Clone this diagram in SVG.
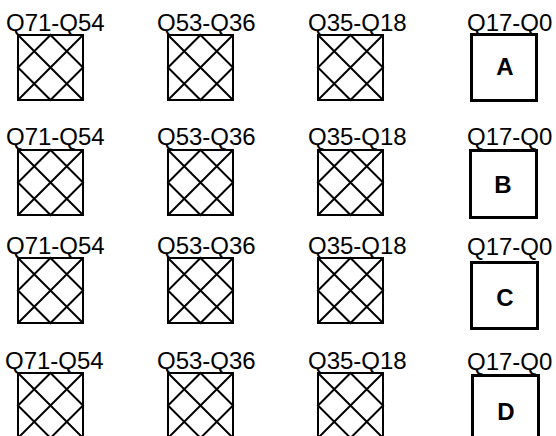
<svg xmlns="http://www.w3.org/2000/svg" xmlns:xlink="http://www.w3.org/1999/xlink" width="556" height="436" viewBox="0 0 556 436">
<style>
.lbl{font-family:"Liberation Sans",Arial,Helvetica,sans-serif;font-size:24px;fill:#000}
.let{font-family:"Liberation Sans",Arial,Helvetica,sans-serif;font-size:24px;font-weight:bold;fill:#000;text-anchor:middle}
.hatch{fill:none;stroke:#000;stroke-width:2}
.box{fill:#fff;stroke:#000;stroke-width:3}
</style>
<defs>
<g id="xsq"><rect x="0" y="0" width="65" height="65" fill="#fff"/><path class="hatch" d="M0,0H65V65H0Z M0,0L65,65 M65,0L0,65 M32.5,0L65,32.5L32.5,65L0,32.5Z"/></g>
</defs>
<rect width="556" height="436" fill="#fff"/>
<g id="connectors"/>
<g id="row1">
<g id="r1c1"><text class="lbl" x="6" y="31">Q71-Q54</text><use xlink:href="#xsq" x="18" y="35"/></g>
<g id="r1c2"><text class="lbl" x="157" y="31">Q53-Q36</text><use xlink:href="#xsq" x="168" y="35"/></g>
<g id="r1c3"><text class="lbl" x="308" y="31">Q35-Q18</text><use xlink:href="#xsq" x="318" y="35"/></g>
<g id="r1c4"><text class="lbl" x="467" y="31">Q17-Q0</text><rect class="box" x="471.5" y="34.5" width="65" height="66"/><text class="let" x="505" y="75">A</text></g>
</g>
<g id="row2">
<g id="r2c1"><text class="lbl" x="6" y="145">Q71-Q54</text><use xlink:href="#xsq" x="18" y="150"/></g>
<g id="r2c2"><text class="lbl" x="157" y="145">Q53-Q36</text><use xlink:href="#xsq" x="168" y="150"/></g>
<g id="r2c3"><text class="lbl" x="308" y="145">Q35-Q18</text><use xlink:href="#xsq" x="318" y="150"/></g>
<g id="r2c4"><text class="lbl" x="467" y="145">Q17-Q0</text><rect class="box" x="470.5" y="150.5" width="66" height="67"/><text class="let" x="503" y="193">B</text></g>
</g>
<g id="row3">
<g id="r3c1"><text class="lbl" x="6" y="254">Q71-Q54</text><use xlink:href="#xsq" x="18" y="258"/></g>
<g id="r3c2"><text class="lbl" x="157" y="254">Q53-Q36</text><use xlink:href="#xsq" x="168" y="258"/></g>
<g id="r3c3"><text class="lbl" x="308" y="254">Q35-Q18</text><use xlink:href="#xsq" x="318" y="258"/></g>
<g id="r3c4"><text class="lbl" x="467" y="255">Q17-Q0</text><rect class="box" x="471.5" y="262.5" width="66" height="66"/><text class="let" x="505" y="306">C</text></g>
</g>
<g id="row4">
<g id="r4c1"><text class="lbl" x="5" y="369">Q71-Q54</text><use xlink:href="#xsq" x="18" y="373"/></g>
<g id="r4c2"><text class="lbl" x="157" y="369">Q53-Q36</text><use xlink:href="#xsq" x="168" y="373"/></g>
<g id="r4c3"><text class="lbl" x="308" y="369">Q35-Q18</text><use xlink:href="#xsq" x="318" y="373"/></g>
<g id="r4c4"><text class="lbl" x="467" y="370">Q17-Q0</text><rect class="box" x="472.5" y="375.5" width="66" height="66"/><text class="let" x="506" y="420">D</text></g>
</g>
</svg>
